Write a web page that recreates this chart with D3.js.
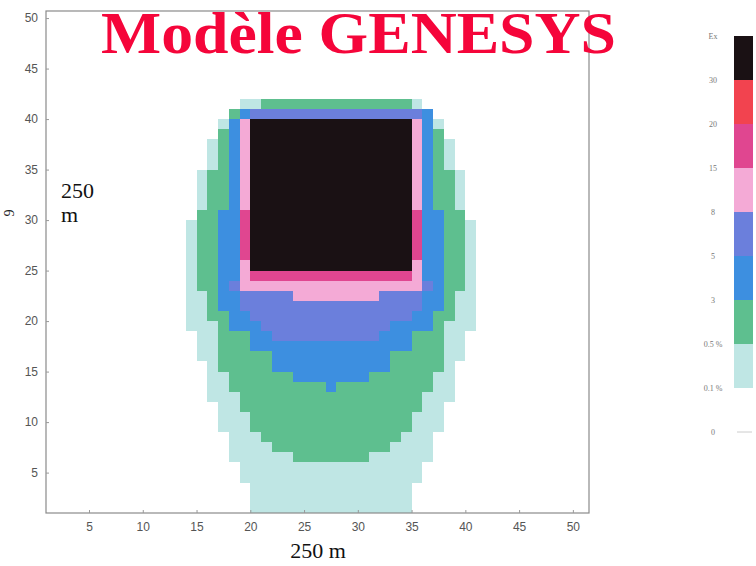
<!DOCTYPE html>
<html>
<head>
<meta charset="utf-8">
<script src="https://cdn.jsdelivr.net/npm/d3@7"></script>
<style>
  body { margin: 0; background: #fff; }
</style>
</head>
<body>
<svg id="chart" width="756" height="566"></svg>
<script>
// axis ticks
const xTicks = [5, 10, 15, 20, 25, 30, 35, 40, 45, 50];
const yTicks = [5, 10, 15, 20, 25, 30, 35, 40, 45, 50];

// legend (top to bottom), labels sit on the boundaries
const legendColors = ['#1a1114', '#f2434f', '#e04690', '#f4aad6', '#6b7fdc', '#3d8fe0', '#5ebf8f', '#bfe6e4'];
const legendLabels = ['Ex', '30', '20', '15', '8', '5', '3', '0.5 %', '0.1 %', '0'];

// zones per level: [rowFrom, rowTo, colFrom, colTo)
const pale = [[1, 3, 20, 35], [4, 5, 19, 36], [6, 8, 18, 37], [9, 11, 17, 38], [12, 15, 16, 39],
  [16, 18, 15, 40], [19, 29, 14, 41], [30, 34, 15, 40], [35, 37, 16, 39], [38, 39, 17, 38],
  [40, 40, 18, 37], [41, 41, 19, 36]];
const green = [[6, 6, 24, 31], [7, 7, 22, 33], [8, 8, 21, 34], [9, 10, 20, 35], [11, 12, 19, 36],
  [13, 14, 18, 37], [15, 19, 17, 38], [20, 22, 16, 39], [23, 30, 15, 40], [31, 34, 16, 39],
  [35, 38, 17, 38], [39, 40, 18, 37], [41, 41, 21, 35]];
const blue = [[13, 13, 27, 28], [14, 14, 24, 31], [15, 16, 22, 33], [17, 18, 20, 35], [19, 20, 18, 37],
  [21, 30, 17, 38], [31, 39, 18, 37], [40, 40, 19, 37]];
const periwinkle = [[18, 18, 22, 32], [19, 19, 21, 33], [20, 20, 20, 35], [21, 22, 19, 36],
  [23, 23, 18, 37], [24, 39, 19, 36], [40, 40, 20, 36]];
const pink = [[22, 22, 24, 32], [23, 39, 19, 36]];
const magenta = [[24, 24, 20, 35], [26, 30, 19, 36]];
const black = [[25, 39, 20, 35]];

const levels = [
  { zones: pale, color: '#bfe6e4' },
  { zones: green, color: '#5ebf8f' },
  { zones: blue, color: '#3d8fe0' },
  { zones: periwinkle, color: '#6b7fdc' },
  { zones: pink, color: '#f4aad6' },
  { zones: magenta, color: '#e04690' },
  { zones: black, color: '#1a1114' }
];

const svg = d3.select('#chart');
svg.append('rect').attr('width', 756).attr('height', 566).attr('fill', '#fff');

const plotLeft = 46, plotRight = 589, plotTop = 11, plotBottom = 513;
const x = d3.scaleLinear().domain([1, 51.5]).range([plotLeft, plotRight]);
const y = d3.scaleLinear().domain([1, 50.7]).range([plotBottom, plotTop]);

// cells
levels.forEach(lv => {
  svg.append('g')
    .selectAll('rect')
    .data(lv.zones)
    .enter()
    .append('rect')
    .attr('x', d => x(d[2]))
    .attr('width', d => x(d[3]) - x(d[2]))
    .attr('y', d => y(d[1] + 1))
    .attr('height', d => y(d[0]) - y(d[1] + 1))
    .attr('fill', lv.color)
    .attr('shape-rendering', 'crispEdges');
});

// frame
svg.append('rect')
  .attr('x', plotLeft).attr('y', plotTop)
  .attr('width', plotRight - plotLeft).attr('height', plotBottom - plotTop)
  .attr('fill', 'none').attr('stroke', '#8a8a8a').attr('stroke-width', 1.2);

const xAxis = svg.append('g')
  .attr('transform', `translate(0,${plotBottom})`)
  .call(d3.axisBottom(x).tickValues(xTicks).tickSize(-3).tickPadding(9));
const yAxis = svg.append('g')
  .attr('transform', `translate(${plotLeft},0)`)
  .call(d3.axisLeft(y).tickValues(yTicks).tickSize(-3).tickPadding(8));
[xAxis, yAxis].forEach(a => {
  a.select('.domain').remove();
  a.selectAll('line').attr('stroke', '#999');
  a.selectAll('text')
    .attr('font-family', 'Liberation Sans, Arial, sans-serif')
    .attr('font-size', 12)
    .attr('fill', '#555');
});

// axis titles
svg.append('text')
  .attr('x', 318).attr('y', 558)
  .attr('text-anchor', 'middle')
  .attr('font-family', 'Liberation Serif, Times New Roman, serif')
  .attr('font-size', 22)
  .attr('fill', '#111')
  .text('250 m');
svg.append('text')
  .attr('x', 61).attr('y', 198)
  .attr('font-family', 'Liberation Serif, Times New Roman, serif')
  .attr('font-size', 22)
  .attr('fill', '#111')
  .text('250');
svg.append('text')
  .attr('x', 61).attr('y', 222)
  .attr('font-family', 'Liberation Serif, Times New Roman, serif')
  .attr('font-size', 22)
  .attr('fill', '#111')
  .text('m');
svg.append('text')
  .attr('transform', 'translate(14,213) rotate(-90)')
  .attr('text-anchor', 'middle')
  .attr('font-family', 'Liberation Serif, Times New Roman, serif')
  .attr('font-size', 14)
  .attr('fill', '#222')
  .text('9');

// title
svg.append('text')
  .attr('x', 101).attr('y', 53)
  .attr('font-family', 'Liberation Serif, Times New Roman, serif')
  .attr('font-weight', 'bold')
  .attr('font-size', 59)
  .attr('textLength', 515)
  .attr('lengthAdjust', 'spacingAndGlyphs')
  .attr('fill', '#f5053a')
  .text('Modèle GENESYS');

// legend colour bar
const ly = d3.scaleLinear().domain([0, 8]).range([36, 388]);
svg.append('g')
  .selectAll('rect')
  .data(legendColors)
  .enter()
  .append('rect')
  .attr('x', 734)
  .attr('width', 19)
  .attr('y', (d, i) => ly(i))
  .attr('height', (d, i) => ly(i + 1) - ly(i))
  .attr('fill', d => d);
svg.append('g')
  .selectAll('text')
  .data(legendLabels)
  .enter()
  .append('text')
  .attr('x', 713)
  .attr('y', (d, i) => ly(i) + 3)
  .attr('text-anchor', 'middle')
  .attr('font-family', 'Liberation Serif, serif')
  .attr('font-size', 8)
  .attr('fill', '#777')
  .text(d => d);
svg.append('line')
  .attr('x1', 737).attr('x2', 752)
  .attr('y1', ly(9)).attr('y2', ly(9))
  .attr('stroke', '#ccc');
</script>
</body>
</html>
